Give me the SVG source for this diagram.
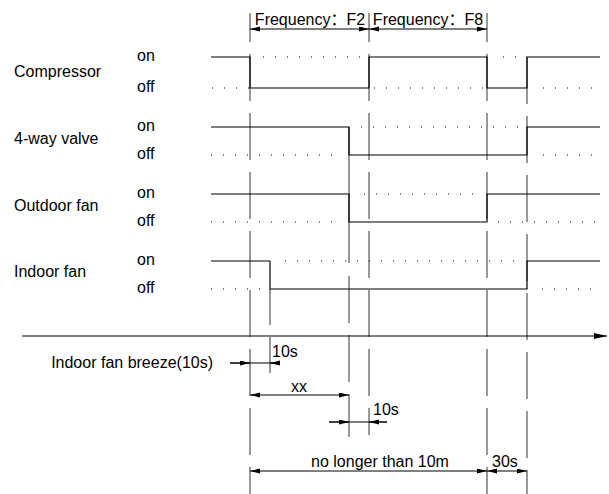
<svg xmlns="http://www.w3.org/2000/svg" width="609" height="494" viewBox="0 0 609 494">
<style>
text{font-family:"Liberation Sans","Noto Sans CJK SC",Arial,sans-serif;font-size:16px;fill:#000}
.sig{fill:none;stroke:#000;stroke-width:1.2}
.dot{fill:none;stroke:#000;stroke-width:1;stroke-dasharray:1 11}
.guide{fill:none;stroke:#333;stroke-width:1;stroke-dasharray:47 12}
.dim{fill:none;stroke:#000;stroke-width:1}
</style>
<defs>
<marker id="ah" markerUnits="userSpaceOnUse" markerWidth="11" markerHeight="6" refX="10" refY="2.5" orient="auto-start-reverse">
<path d="M0,0 L10,2.5 L0,5 z" fill="#000"/>
</marker>
<marker id="axisHead" markerUnits="userSpaceOnUse" markerWidth="14" markerHeight="7" refX="13" refY="3" orient="auto">
<path d="M0,0 L13,3 L0,6 z" fill="#000"/>
</marker>
</defs>

<g id="labels">
<text x="14" y="77">Compressor</text>
<text x="14" y="144">4-way valve</text>
<text x="14" y="211">Outdoor fan</text>
<text x="14" y="277">Indoor fan</text>
<text x="137" y="61">on</text>
<text x="137" y="92">off</text>
<text x="137" y="131">on</text>
<text x="137" y="159">off</text>
<text x="137" y="198">on</text>
<text x="137" y="226">off</text>
<text x="137" y="265">on</text>
<text x="137" y="293">off</text>
</g>

<g id="connectors">
<line class="guide" x1="250" y1="13" x2="250" y2="494" stroke-dashoffset="18"/>
<line class="guide" x1="369" y1="13" x2="369" y2="435" stroke-dashoffset="18"/>
<line class="guide" x1="487" y1="13" x2="487" y2="494" stroke-dashoffset="18"/>
<line class="guide" x1="527" y1="57" x2="527" y2="494" stroke-dashoffset="0"/>
<line x1="349" y1="127" x2="349" y2="263" stroke="#333" stroke-width="1"/>
<line class="guide" x1="349" y1="276" x2="349" y2="437" stroke-dashoffset="0"/>
<line class="guide" x1="270" y1="289" x2="270" y2="373" stroke-dashoffset="11"/>
<line x1="22" y1="336" x2="607" y2="336" stroke="#000" stroke-width="1.2" marker-end="url(#axisHead)"/>
</g>

<g id="compressor">
<polyline class="sig" points="211,57 250,57 250,88 369,88 369,57 487,57 487,88 527,88 527,57 600,57"/>
<line class="dot" x1="263" y1="57" x2="360" y2="57"/>
<line class="dot" x1="503" y1="57" x2="520" y2="57"/>
<line class="dot" x1="212" y1="88" x2="250" y2="88"/>
<line class="dot" x1="374" y1="88" x2="484" y2="88"/>
<line class="dot" x1="543" y1="88" x2="600" y2="88"/>
</g>

<g id="four-way-valve">
<polyline class="sig" points="211,127 349,127 349,155 527,155 527,127 600,127"/>
<line class="dot" x1="361" y1="127" x2="520" y2="127"/>
<line class="dot" x1="211" y1="155" x2="340" y2="155"/>
<line class="dot" x1="543" y1="155" x2="600" y2="155"/>
</g>

<g id="outdoor-fan">
<polyline class="sig" points="211,194 349,194 349,222 487,222 487,194 600,194"/>
<line class="dot" x1="364" y1="194" x2="480" y2="194"/>
<line class="dot" x1="211" y1="222" x2="340" y2="222"/>
<line class="dot" x1="498" y1="222" x2="600" y2="222"/>
</g>

<g id="indoor-fan">
<polyline class="sig" points="211,261 270,261 270,289 527,289 527,261 600,261"/>
<line class="dot" x1="285" y1="261" x2="520" y2="261"/>
<line class="dot" x1="211" y1="289" x2="262" y2="289"/>
<line class="dot" x1="542" y1="289" x2="600" y2="289"/>
</g>

<g id="frequency-f2">
<line class="dim" x1="250" y1="29" x2="369" y2="29" marker-start="url(#ah)" marker-end="url(#ah)"/>
<text x="310" y="25" text-anchor="middle">Frequency：F2</text>
</g>
<g id="frequency-f8">
<line class="dim" x1="369" y1="29" x2="487" y2="29" marker-start="url(#ah)" marker-end="url(#ah)"/>
<text x="428" y="25" text-anchor="middle">Frequency：F8</text>
</g>

<g id="breeze">
<line class="dim" x1="230" y1="363" x2="280" y2="363"/>
<line class="dim" x1="230" y1="363" x2="250" y2="363" marker-end="url(#ah)"/>
<line class="dim" x1="280" y1="363" x2="270" y2="363" marker-end="url(#ah)"/>
<text x="213" y="368" text-anchor="end">Indoor fan breeze(10s)</text>
<text x="272" y="357">10s</text>
</g>

<g id="xx">
<line class="dim" x1="250" y1="395" x2="349" y2="395" marker-start="url(#ah)" marker-end="url(#ah)"/>
<text x="299" y="392" text-anchor="middle">xx</text>
</g>

<g id="valve-delay">
<line class="dim" x1="329" y1="422" x2="387" y2="422"/>
<line class="dim" x1="329" y1="422" x2="349" y2="422" marker-end="url(#ah)"/>
<line class="dim" x1="387" y1="422" x2="369" y2="422" marker-end="url(#ah)"/>
<text x="373" y="415">10s</text>
</g>

<g id="max-time">
<line class="dim" x1="250" y1="471" x2="487" y2="471" marker-start="url(#ah)" marker-end="url(#ah)"/>
<text x="380" y="467" text-anchor="middle">no longer than 10m</text>
</g>

<g id="restart">
<line class="dim" x1="487" y1="471" x2="527" y2="471" marker-start="url(#ah)" marker-end="url(#ah)"/>
<text x="492" y="467">30s</text>
</g>
</svg>
